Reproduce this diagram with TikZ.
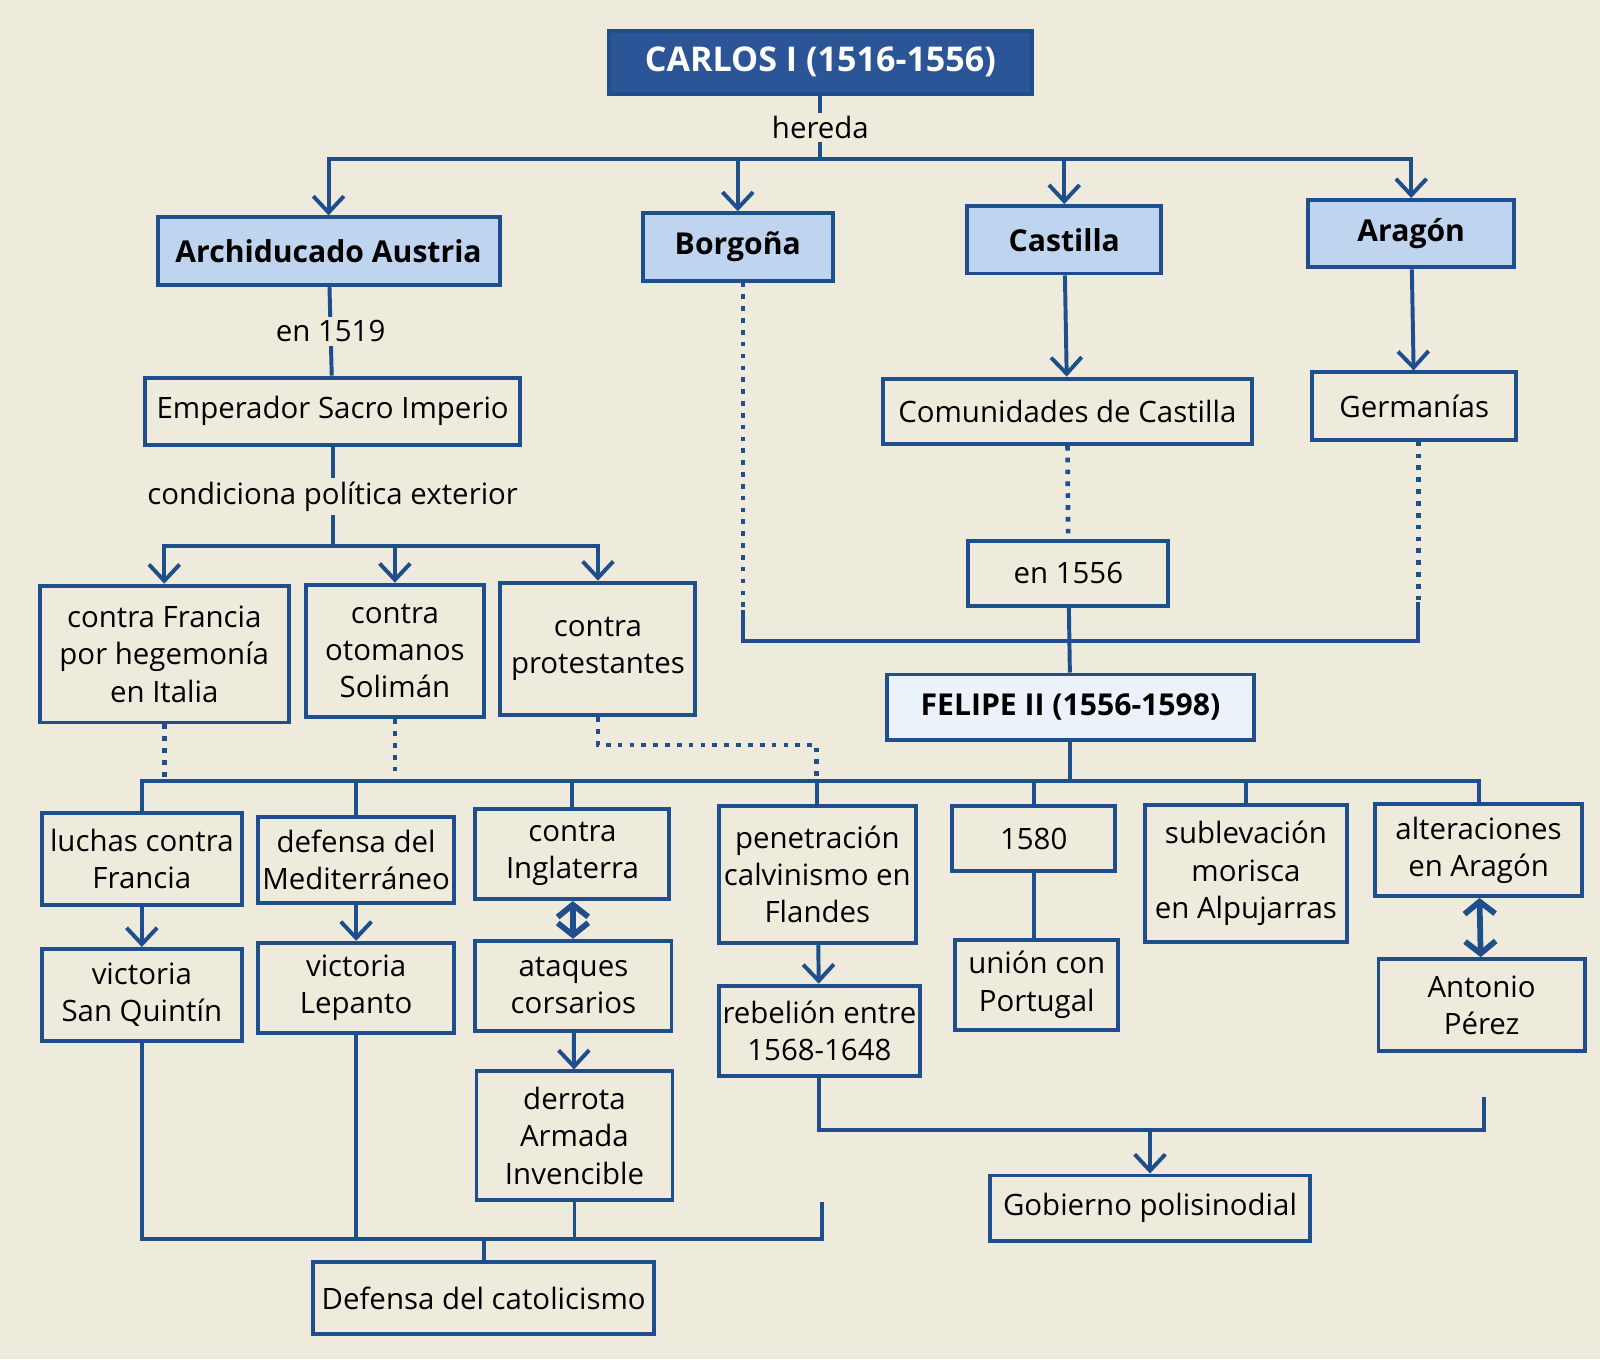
\documentclass[tikz,border=0pt]{standalone}
\usepackage{fontspec}
\setmainfont{Open Sans}
\usetikzlibrary{arrows.meta, positioning, calc}
\definecolor{paper}{HTML}{EFEBDC}
\definecolor{navy}{HTML}{1F4E8C}
\definecolor{lightblue}{HTML}{BFD4EE}
\definecolor{darkblue}{HTML}{2B5597}
\begin{document}
\begin{tikzpicture}[
        x=0.01cm, y=-0.01cm,
        box/.style={rectangle, draw=navy, line width=1.1pt, fill=paper, align=center, font=\fontsize{8.2}{10.4}\selectfont, inner sep=1pt},
        head/.style={box, fill=lightblue, font=\fontsize{8.4}{10}\selectfont\bfseries},
        lbl/.style={font=\fontsize{8.2}{10}\selectfont, fill=paper, inner sep=1pt},
        line/.style={draw=navy, line width=1.1pt},
        arrow/.style={line, -{Straight Barb[length=1.6mm, width=3mm, line width=1.1pt]}},
        both/.style={line, line width=1.6pt, {Straight Barb[length=1.2mm, width=3mm]}-{Straight Barb[length=1.2mm, width=3mm]}},
        dots/.style={draw=navy, line width=1.3pt, dotted}
    ]
    \fill[paper] (0,0) rectangle (1568,1332);

    % Carlos I
    \node[box, fill=darkblue, text=white, font=\fontsize{9.5}{12}\selectfont\bfseries, minimum width=4.15cm, minimum height=0.62cm] (carlos) at (804,61) {CARLOS I (1516-1556)};
    \node[head, minimum width=3.35cm, minimum height=0.66cm] (austria) at (322,246) {Archiducado Austria};
    \node[head, minimum width=1.86cm, minimum height=0.66cm] (borgona) at (723,242) {Borgoña};
    \node[head, minimum width=1.9cm, minimum height=0.66cm] (castilla) at (1043,235) {Castilla};
    \node[head, minimum width=2.02cm, minimum height=0.66cm] (aragon) at (1383,229) {Aragón};
    \coordinate (busA) at (804,156);
    \draw[line] (carlos) -- node[lbl] {hereda} (busA);
    \draw[arrow] (busA) -| (austria);
    \draw[arrow] (busA) -| (borgona);
    \draw[arrow] (busA) -| (castilla);
    \draw[arrow] (busA) -| (aragon);

    % Austria branch
    \node[box, minimum width=3.67cm, minimum height=0.66cm] (emperador) at (326,403) {Emperador Sacro Imperio};
    \draw[line] (austria) -- node[lbl] {en 1519} (emperador);
    \node[box, minimum width=2.44cm, minimum height=1.34cm] (francia) at (161,641) {contra Francia\\por hegemonía\\en Italia};
    \node[box, minimum width=1.74cm, minimum height=1.3cm] (otomanos) at (387,638) {contra\\otomanos\\Solimán};
    \node[box, minimum width=1.91cm, minimum height=1.3cm] (protestantes) at (586,636) {contra\\protestantes};
    \coordinate (busB) at (326,535);
    \draw[line] (emperador) -- node[lbl] {condiciona política exterior} (busB);
    \draw[arrow] (busB) -| (francia);
    \draw[arrow] (busB) -| (otomanos);
    \draw[arrow] (busB) -| (protestantes);

    % Castilla, Aragon
    \node[box, minimum width=3.62cm, minimum height=0.64cm] (comunidades) at (1046,403) {Comunidades de Castilla};
    \node[box, minimum width=2cm, minimum height=0.66cm] (germanias) at (1386,398) {Germanías};
    \draw[arrow] (castilla) -- (comunidades);
    \draw[arrow] (aragon) -- (germanias);
    \node[box, minimum width=1.96cm, minimum height=0.64cm] (en1556) at (1047,562) {en 1556};
    \node[box, fill=white!70!lightblue, font=\fontsize{8.4}{10}\selectfont\bfseries, minimum width=3.6cm, minimum height=0.64cm] (felipe) at (1049,693) {FELIPE II (1556-1598)};
    \draw[dots] (comunidades) -- (en1556);
    \draw[line] (en1556) -- (felipe);
    \coordinate (bL) at (728,598);
    \coordinate (bR) at (1390,590);
    \draw[dots] (borgona.south -| bL) -- (bL);
    \draw[dots] (germanias.south -| bR) -- (bR);
    \draw[line] (bL) |- (1048,628) -| (bR);

    % Felipe II branches
    \node[box, minimum width=1.96cm, minimum height=0.9cm] (luchas) at (139,842) {luchas contra\\Francia};
    \node[box, minimum width=1.92cm, minimum height=0.84cm] (defensa) at (349,843) {defensa del\\Mediterráneo};
    \node[box, minimum width=1.9cm, minimum height=0.88cm] (inglaterra) at (561,837) {contra\\Inglaterra};
    \node[box, minimum width=1.93cm, minimum height=1.34cm] (calvinismo) at (801,857) {penetración\\calvinismo en\\Flandes};
    \node[box, minimum width=1.6cm, minimum height=0.64cm] (n1580) at (1013,822) {1580};
    \node[box, minimum width=1.98cm, minimum height=1.34cm] (morisca) at (1221,856) {sublevación\\morisca\\en Alpujarras};
    \node[box, minimum width=2.02cm, minimum height=0.9cm] (alteraciones) at (1449,833) {alteraciones\\en Aragón};
    \coordinate (busC) at (1049,765);
    \draw[line] (felipe) -- (busC);
    \foreach \n in {luchas, defensa, inglaterra, calvinismo, n1580, morisca, alteraciones}
        \draw[line] (busC) -| (\n);
    \draw[dots] (francia) -- (francia.south |- busC);
    \draw[dots] (otomanos) -- (otomanos.south |- busC);
    \draw[dots] (protestantes) |- (800,730) -- (800,760);

    % Consequences
    \node[box, minimum width=1.96cm, minimum height=0.9cm] (quintin) at (139,975) {victoria\\San Quintín};
    \node[box, minimum width=1.92cm, minimum height=0.88cm] (lepanto) at (349,968) {victoria\\Lepanto};
    \node[box, minimum width=1.92cm, minimum height=0.88cm] (ataques) at (562,966) {ataques\\corsarios};
    \node[box, minimum width=1.92cm, minimum height=1.26cm] (derrota) at (563,1113) {derrota\\Armada\\Invencible};
    \node[box, minimum width=1.93cm, minimum height=0.88cm] (rebelion) at (803,1010) {rebelión entre\\1568-1648};
    \node[box, minimum width=1.6cm, minimum height=0.88cm] (union) at (1016,965) {unión con\\Portugal};
    \node[box, minimum width=2.02cm, minimum height=0.9cm] (antonio) at (1452,985) {Antonio\\Pérez};
    \draw[arrow] (luchas) -- (quintin);
    \draw[arrow] (defensa) -- (lepanto);
    \draw[both] (inglaterra) -- (ataques);
    \draw[arrow] (ataques) -- (derrota);
    \draw[arrow] (calvinismo) -- (rebelion);
    \draw[line] (n1580) -- (n1580.south |- union.north);
    \draw[both] (alteraciones) -- (antonio);

    % Bottom
    \node[box, minimum width=3.34cm, minimum height=0.7cm] (catolicismo) at (474,1272) {Defensa del catolicismo};
    \node[box, minimum width=3.14cm, minimum height=0.64cm] (gobierno) at (1127,1184) {Gobierno polisinodial};
    \coordinate (busD) at (474,1214);
    \coordinate (freeD) at (806,1178);
    \draw[line] (quintin) |- (busD);
    \draw[line] (lepanto) -- (lepanto.south |- busD);
    \draw[line] (derrota) -- (derrota.south |- busD);
    \draw[line] (busD) -| (freeD);
    \draw[line] (busD) -- (catolicismo);
    \coordinate (busE) at (1127,1107);
    \coordinate (freeE) at (1454,1075);
    \draw[line] (rebelion) |- (busE) -| (freeE);
    \draw[arrow] (busE) -- (gobierno);
\end{tikzpicture}
\end{document}
